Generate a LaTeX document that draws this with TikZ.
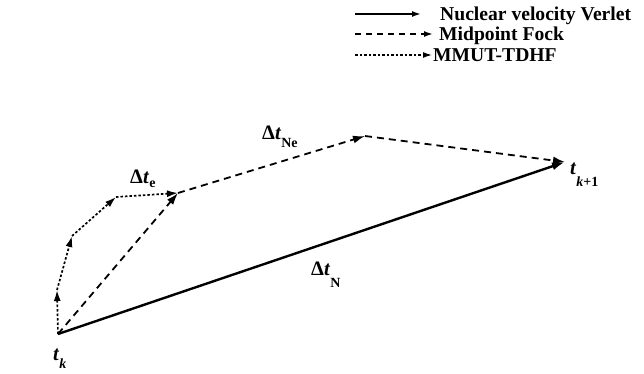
\documentclass[tikz,border=0pt]{standalone}
\usepackage{fontspec}
\setmainfont{Liberation Serif}
\usetikzlibrary{arrows.meta}

%% lowered subscript: [drop] {text}
\newcommand{\lowsub}[2][6pt]{\raisebox{-#1}{\fontsize{14}{14}\selectfont #2}}

\begin{document}
\begin{tikzpicture}[x=1pt, y=-1pt,
  steplabel/.style={font=\fontsize{20.5}{20.5}\selectfont\bfseries, anchor=base west, inner sep=0pt},
  leglabel/.style={font=\fontsize{19.6}{19.6}\selectfont\bfseries, anchor=base west, inner sep=0pt},
  verlet/.style={line width=2.4pt, -{Latex[length=13pt,width=8pt]}},
  fock/.style={line width=1.8pt, dash pattern=on 7pt off 5pt, -{Latex[length=12pt,width=8pt]}},
  mmut/.style={line width=1.7pt, dash pattern=on 2.5pt off 2pt, -{Latex[length=11pt,width=7pt]}},
  legtip/.style={-{Latex[length=9pt,width=6pt]}},
]
\useasboundingbox (0,0) rectangle (644,374);

%% ── time points (1pt = 1 pixel, y grows downward) ───────
\coordinate (tk)  at (58,334);
\coordinate (tk1) at (565,162);
\coordinate (m1)  at (178,193);   % end of electronic sub-steps
\coordinate (m2)  at (365,136);   % midpoint of the Fock step

%% ── electronic sub-steps ────────────────────────────────
\coordinate (e1) at (57,290);
\coordinate (e2) at (72,236);
\coordinate (e3) at (116,197);

%% ── MMUT-TDHF path ──────────────────────────────────────
\draw[mmut] (tk) -- (e1);
\draw[mmut] (e1) -- (e2);
\draw[mmut] (e2) -- (e3);
\draw[mmut] (e3) -- (m1);

%% ── Midpoint Fock path ──────────────────────────────────
\draw[fock] (tk) -- (m1);
\draw[fock] (m1) -- (m2);
\draw[fock] (m2) -- (tk1);

%% ── Nuclear velocity Verlet step ────────────────────────
\draw[verlet] (tk) -- (tk1);

%% ── labels ──────────────────────────────────────────────
\node[steplabel] (lbE)  at (130,183) {Δ\textit{t}\lowsub[4pt]{e}};
\node[steplabel] (lbNe) at (262,140) {Δ\textit{t}\lowsub[8pt]{Ne}};
\node[steplabel] (lbN)  at (311,275) {Δ\textit{t}\lowsub[12pt]{N}};
\node[steplabel] (lbTk) at (53,360)  {\textit{t}\lowsub[8pt]{\textit{k}}};
\node[steplabel] (lbTk1) at (570,175) {\textit{t}\lowsub[12pt]{\textit{k}+1}};

%% ── legend ──────────────────────────────────────────────
\node[leglabel] (lgV) at (440,21) {Nuclear velocity Verlet};
\node[leglabel] (lgF) at (439,41) {Midpoint Fock};
\node[leglabel] (lgM) at (433,62) {MMUT-TDHF};
\coordinate (lsV) at (355,14);
\coordinate (lsF) at (355,34);
\coordinate (lsM) at (355,55);
\draw[line width=1.6pt, legtip, shorten >=19pt] (lsV) -- (lsV -| lgV.west);
\draw[line width=1.6pt, dash pattern=on 6pt off 5pt, legtip, shorten >=6pt] (lsF) -- (lsF -| lgF.west);
\draw[line width=1.3pt, dash pattern=on 2.5pt off 2pt, legtip, shorten >=1pt] (lsM) -- (lsM -| lgM.west);

\end{tikzpicture}
\end{document}
